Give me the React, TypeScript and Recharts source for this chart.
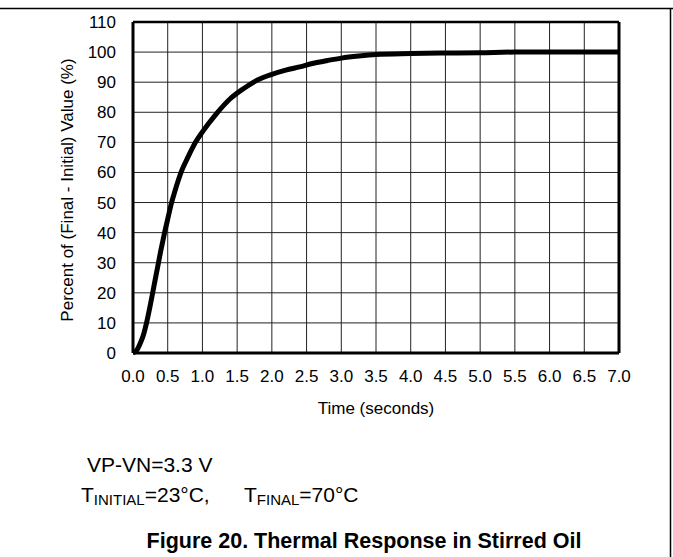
import React from 'react';
import {
  LineChart,
  Line,
  XAxis,
  YAxis,
  CartesianGrid,
  ReferenceLine,
} from 'recharts';

// Time (s) and percent of (final - initial) value
const timeSec = [
  0, 0.05, 0.1, 0.15, 0.2, 0.25, 0.3, 0.35, 0.4, 0.45, 0.5, 0.55, 0.6, 0.7, 0.8,
  0.9, 1.0, 1.2, 1.4, 1.6, 1.8, 2.0, 2.2, 2.4, 2.6, 2.8, 3.0, 3.25, 3.5, 4.0,
  4.5, 5.0, 5.5, 6.0, 6.5, 7.0,
];
const percentValue = [
  0, 0.8, 3, 6, 10.5, 16, 22, 28, 34, 39.5, 44.5, 49.5, 53.5, 60.5, 65.5,
  70, 73.5, 79.5, 84.5, 88, 90.8, 92.6, 94, 95.1, 96.3, 97.2, 98, 98.7, 99.2, 99.5,
  99.7, 99.8, 100, 100, 100, 100,
];
const xTicks = [0, 0.5, 1, 1.5, 2, 2.5, 3, 3.5, 4, 4.5, 5, 5.5, 6, 6.5, 7];
const yTicks = [0, 10, 20, 30, 40, 50, 60, 70, 80, 90, 100, 110];

const data = timeSec.map((t, i) => ({ t, v: percentValue[i] }));

const FONT = '"Liberation Sans", Arial, Helvetica, sans-serif';

export default function App() {
  return (
    <div
      style={{
        position: 'absolute',
        left: 0,
        top: 0,
        width: 673,
        height: 557,
        background: '#fff',
        fontFamily: FONT,
      }}
    >
      <LineChart
        width={673}
        height={557}
        data={data}
        margin={{ top: 22, right: 54, bottom: 174, left: 73 }}
      >
        <CartesianGrid stroke="#222" strokeWidth={1} />
        <XAxis
          dataKey="t"
          type="number"
          domain={[0, 7]}
          ticks={xTicks}
          tickFormatter={(v: number) => v.toFixed(1)}
          interval={0}
          height={30}
          tickSize={0}
          tickMargin={17}
          axisLine={{ stroke: '#000', strokeWidth: 3 }}
          tick={{ fill: '#000', fontSize: 17, fontFamily: FONT }}
        />
        <YAxis
          type="number"
          domain={[0, 110]}
          ticks={yTicks}
          interval={0}
          width={60}
          tickSize={0}
          tickMargin={17}
          axisLine={{ stroke: '#000', strokeWidth: 3 }}
          tick={{ fill: '#000', fontSize: 17, fontFamily: FONT }}
        />
        <ReferenceLine y={110} stroke="#000" strokeWidth={2.5} />
        <ReferenceLine x={7} stroke="#000" strokeWidth={3} />
        <Line
          type="monotone"
          dataKey="v"
          stroke="#000"
          strokeWidth={5}
          dot={false}
          isAnimationActive={false}
        />
      </LineChart>
      <svg
        width={673}
        height={557}
        style={{ position: 'absolute', left: 0, top: 0, pointerEvents: 'none' }}
        fontFamily={FONT}
      >
        <line x1={0} y1={8.5} x2={673} y2={8.5} stroke="#000" strokeWidth={1.5} />
        <line x1={670.5} y1={8} x2={670.5} y2={557} stroke="#000" strokeWidth={1.5} />
        <text
          x={67}
          y={190}
          fontSize={17}
          textAnchor="middle"
          dominantBaseline="central"
          transform="rotate(-90 67 190)"
        >
          Percent of (Final - Initial) Value (%)
        </text>
        <text x={376} y={408} fontSize={17} textAnchor="middle" dominantBaseline="central">
          Time (seconds)
        </text>
        <text x={87} y={472} fontSize={21}>
          VP-VN=3.3 V
        </text>
        <text x={81} y={502} fontSize={21}>
          T
          <tspan fontSize={15} dy={3}>INITIAL</tspan>
          <tspan dy={-3}>=23°C,</tspan>
        </text>
        <text x={244} y={502} fontSize={21}>
          T
          <tspan fontSize={15} dy={3}>FINAL</tspan>
          <tspan dy={-3}>=70°C</tspan>
        </text>
        <text x={364} y={548} fontSize={21.5} fontWeight="bold" textAnchor="middle">
          Figure 20. Thermal Response in Stirred Oil
        </text>
      </svg>
    </div>
  );
}
